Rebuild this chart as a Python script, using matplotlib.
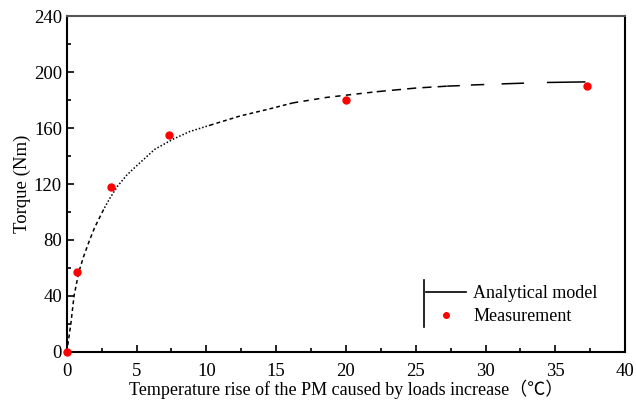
import matplotlib.pyplot as plt
from matplotlib.ticker import MultipleLocator
from matplotlib.lines import Line2D

# analytical model curve
model_x = [0, 0.29, 0.52, 0.86, 1.2, 1.6, 2.0, 2.7, 3.1, 3.6, 4.3, 5.0, 6.3, 7.6,
           8.8, 10.25, 12.4, 14.4, 16.2, 18.6, 22.2, 25.0,
           27.3, 28.1, 29.0, 29.85, 31.2, 32.7, 34.45, 37.1]
model_y = [0, 20, 40, 57, 68, 79, 89, 103, 110, 118, 126.4, 133, 144.8, 152,
           157.5, 162, 168.6, 173.4, 178, 181.9, 186, 188.6,
           190, 190.3, 190.8, 191.1, 191.6, 192.1, 192.6, 193]

# measurements
meas_x = [0, 0.75, 3.2, 7.3, 20.0, 37.3]
meas_y = [0, 57, 118, 155, 180, 190]

plt.rcParams['font.family'] = ['Liberation Serif', 'Noto Sans CJK SC']
plt.rcParams['font.size'] = 13.5

fig = plt.figure(figsize=(6.36, 4.04), dpi=100)
ax = fig.add_axes([0.105, 0.129, 0.878, 0.831])

# the model line gets longer dashes as it flattens out
parts = [(0, 8, (2.5, 2)), (7, 16, (1, 1.3)), (15, 19, (2.5, 2)),
         (18, 21, (3.5, 3.5)), (20, 23, (6, 4))]
for a, b, dash in parts:
    ax.plot(model_x[a:b], model_y[a:b], color='black', lw=1.1, dashes=dash)
# last stretch: every other piece drawn
for i in range(22, len(model_x) - 1, 2):
    ax.plot(model_x[i:i + 2], model_y[i:i + 2], color='black', lw=1.1)

ax.plot(meas_x, meas_y, 'o', color='red', ms=5, clip_on=False, zorder=5)

ax.set_xlim(0, 40)
ax.set_ylim(0, 240)
ax.xaxis.set_major_locator(MultipleLocator(5))
ax.xaxis.set_minor_locator(MultipleLocator(2.5))
ax.yaxis.set_major_locator(MultipleLocator(40))
ax.yaxis.set_minor_locator(MultipleLocator(20))
ax.tick_params(which='both', direction='in', top=False, right=False, width=1.2)
ax.tick_params(which='major', length=5, labelsize=13.5)
ax.tick_params(which='minor', length=3)
ax.tick_params(axis='x', pad=8)
for s in ['left', 'bottom', 'right', 'top']:
    ax.spines[s].set_linewidth(1.5)
ax.spines['top'].set_color('#555555')

ax.set_xlabel('Temperature rise of the PM caused by loads increase（℃）', fontsize=13, labelpad=0)
ax.set_ylabel('Torque (Nm)', fontsize=13.5, labelpad=2)

handles = [Line2D([], [], color='black', lw=1.2),
           Line2D([], [], ls='none', marker='o', color='red', ms=4)]
ax.legend(handles, ['Analytical model', 'Measurement'], loc='lower left',
          bbox_to_anchor=(0.615, 0.032), frameon=False, fontsize=13,
          handlelength=2.2, handletextpad=0.4, labelspacing=0.3)
ax.add_line(Line2D([0.639, 0.639], [0.075, 0.215], color='black', lw=1.2,
                   transform=ax.transAxes))

fig.savefig('out.png', dpi=100)
